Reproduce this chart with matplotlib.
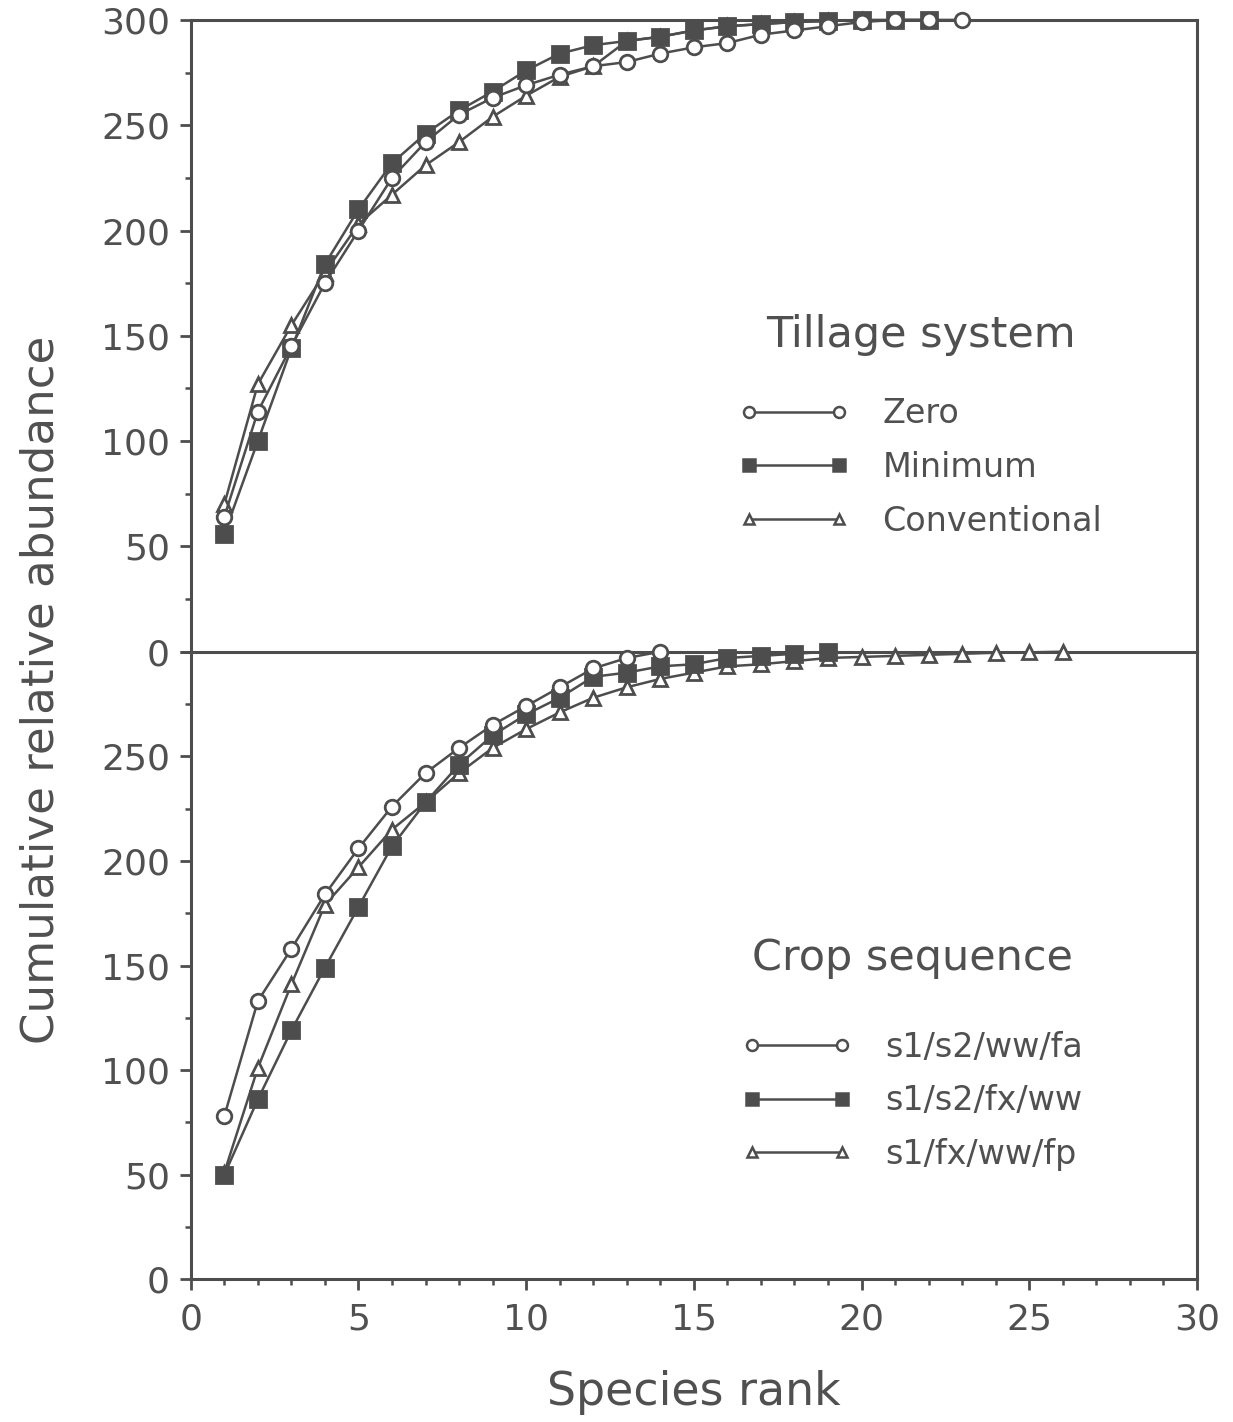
import matplotlib
matplotlib.use("Agg")
import matplotlib.pyplot as plt
from matplotlib.ticker import MultipleLocator, FixedLocator

# ---------------- data ----------------
zero_x = list(range(1, 24))
zero_y = [64, 114, 145, 175, 200, 225, 242, 255, 263, 269, 274, 278, 280, 284,
          287, 289, 293, 295, 297, 299, 300, 300, 300]
minimum_x = list(range(1, 23))
minimum_y = [56, 100, 144, 184, 210, 232, 246, 257, 266, 276, 284, 288, 290, 292,
             295, 297, 298, 299, 299.5, 300, 300, 300]
conv_x = list(range(1, 21))
conv_y = [70, 127, 155, 180, 203, 217, 231, 242, 254, 264, 273, 278, 290, 292,
          295, 297, 298, 299, 299.5, 300]

fa_x = list(range(1, 15))
fa_y = [78, 133, 158, 184, 206, 226, 242, 254, 265, 274, 283, 292, 297, 300]
fxww_x = list(range(1, 20))
fxww_y = [50, 86, 119, 149, 178, 207, 228, 246, 260, 270, 278, 288, 290, 293,
          294, 297, 298, 299, 300]
fp_x = list(range(1, 27))
fp_y = [51, 101, 141, 179, 197, 215, 228, 242, 254, 263, 271, 278, 283, 287,
        290, 293, 294, 295.5, 297, 297.5, 298, 298.5, 299, 299.5, 299.7, 300]

top_labels = ["Zero", "Minimum", "Conventional"]
bottom_labels = ["s1/s2/ww/fa", "s1/s2/fx/ww", "s1/fx/ww/fp"]
top_title = "Tillage system"
bottom_title = "Crop sequence"
xlabel = "Species rank"
ylabel = "Cumulative relative abundance"

# ---------------- style ----------------
C = "#4d4d4d"
TC = "#505050"
plt.rcParams["font.family"] = ["DejaVu Sans"]

fig = plt.figure(figsize=(12.33, 14.22), dpi=100)
fig.patch.set_facecolor("white")
L, W = 0.1547, 0.8161
ax_top = fig.add_axes([L, 0.5417, W, 0.4443])
ax_bot = fig.add_axes([L, 0.1003, W, 0.4414])

styles = [
    dict(marker="o", markersize=10.5, markerfacecolor="white"),
    dict(marker="s", markersize=11, markerfacecolor=C),
    dict(marker="^", markersize=9.5, markerfacecolor="white"),
]
zorders = [5, 4, 3]

def draw(ax, xs, ys, labels, title, legend_anchor, sep):
    for x, y, st, lab, z in zip(xs, ys, styles, labels, zorders):
        ax.plot(x, y, color=C, lw=1.8, markeredgecolor=C,
                markeredgewidth=2.0, label=lab, clip_on=False, zorder=z, **st)
    ax.set_xlim(0, 30)
    ax.set_ylim(0, 300)
    for sp in ax.spines.values():
        sp.set_linewidth(2.2)
        sp.set_color(C)
    ax.xaxis.set_major_locator(MultipleLocator(5))
    ax.xaxis.set_minor_locator(MultipleLocator(1))
    ax.yaxis.set_minor_locator(MultipleLocator(25))
    ax.tick_params(which="major", direction="out", length=8, width=2.0,
                   color=C, labelcolor=TC, labelsize=26, pad=7)
    ax.tick_params(which="minor", direction="out", length=4.5, width=1.8, color=C)
    ax.tick_params(axis="x", pad=9)
    # legend
    leg_handles = []
    for st, lab in zip(styles, labels):
        st2 = dict(st)
        st2["markersize"] = st["markersize"] * 0.75
        h, = ax.plot([], [], color=C, lw=1.8, markeredgecolor=C,
                     markeredgewidth=1.8, label=lab, **st2)
        leg_handles.append(h)
    leg = ax.legend(handles=leg_handles, loc="upper left",
                    bbox_to_anchor=legend_anchor, frameon=False,
                    numpoints=2, handlelength=3.3, handletextpad=1.0,
                    labelspacing=0.62, fontsize=24, labelcolor=TC,
                    title=title, title_fontsize=31, borderpad=0,
                    borderaxespad=0)
    leg.get_title().set_color(TC)
    leg._legend_box.sep = sep
    return leg

draw(ax_top, [zero_x, minimum_x, conv_x], [zero_y, minimum_y, conv_y],
     top_labels, top_title, (0.545, 0.535), 30)
draw(ax_bot, [fa_x, fxww_x, fp_x], [fa_y, fxww_y, fp_y],
     bottom_labels, bottom_title, (0.548, 0.545), 37)

ax_top.yaxis.set_major_locator(FixedLocator([0, 50, 100, 150, 200, 250, 300]))
ax_top.tick_params(axis="x", which="both", bottom=False, labelbottom=False)
ax_top.spines["bottom"].set_visible(False)
ax_bot.yaxis.set_major_locator(FixedLocator([0, 50, 100, 150, 200, 250, 300]))
ax_bot.set_yticklabels(["0", "50", "100", "150", "200", "250", ""])

ax_bot.set_xlabel(xlabel, fontsize=33, color=TC, labelpad=24)
fig.text(0.033, 0.515, ylabel, rotation=90, fontsize=32.5, color=TC,
         ha="center", va="center")

fig.savefig("out.png", dpi=100, facecolor="white")
